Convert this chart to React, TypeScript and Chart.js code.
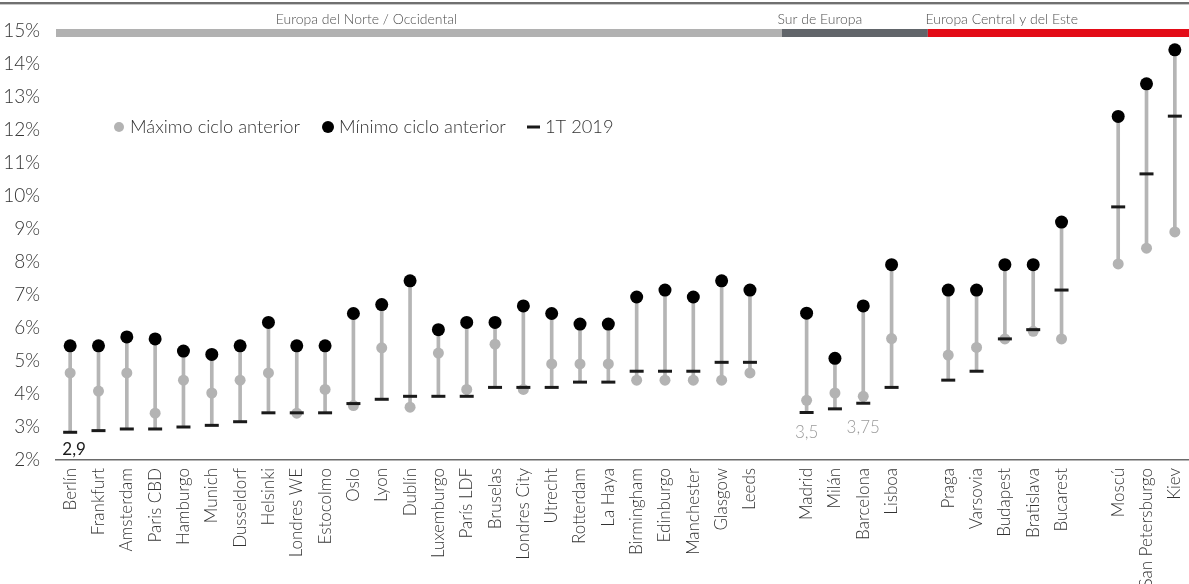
import React, { useEffect, useRef } from 'react';
import { Chart, registerables } from 'chart.js';

Chart.register(...registerables);

const categories = [
  'Berlín', 'Frankfurt', 'Amsterdam', 'Paris CBD', 'Hamburgo', 'Munich', 'Dusseldorf', 'Helsinki',
  'Londres WE', 'Estocolmo', 'Oslo', 'Lyon', 'Dublín', 'Luxemburgo', 'París LDF', 'Bruselas',
  'Londres City', 'Utrecht', 'Rotterdam', 'La Haya', 'Birmingham', 'Edinburgo', 'Manchester',
  'Glasgow', 'Leeds', '',
  'Madrid', 'Milán', 'Barcelona', 'Lisboa', '',
  'Praga', 'Varsovia', 'Budapest', 'Bratislava', 'Bucarest', '',
  'Moscú', 'San Petersburgo', 'Kiev',
];

// Máximo ciclo anterior (grey dots)
const maxPrevCycle = [
  4.64, 4.09, 4.64, 3.42, 4.42, 4.03, 4.42, 4.64, 3.42, 4.14, 3.65, 5.40, 3.60, 5.24, 4.14, 5.51,
  4.14, 4.91, 4.91, 4.91, 4.42, 4.42, 4.42, 4.42, 4.64, null,
  3.81, 4.03, 3.93, 5.68, null,
  5.18, 5.41, 5.67, 5.90, 5.67, null,
  7.94, 8.42, 8.91,
];

// Mínimo ciclo anterior (black dots)
const minPrevCycle = [
  5.46, 5.46, 5.73, 5.67, 5.30, 5.20, 5.46, 6.17, 5.46, 5.46, 6.44, 6.71, 7.43, 5.95, 6.17, 6.17,
  6.67, 6.44, 6.12, 6.12, 6.94, 7.15, 6.94, 7.43, 7.15, null,
  6.45, 5.08, 6.67, 7.92, null,
  7.15, 7.15, 7.92, 7.92, 9.21, null,
  12.41, 13.40, 14.43,
];

// 1T 2019 (dashes)
const q1_2019 = [
  2.84, 2.89, 2.94, 2.94, 3.00, 3.05, 3.16, 3.43, 3.43, 3.43, 3.71, 3.84, 3.93, 3.93, 3.93, 4.20,
  4.20, 4.20, 4.36, 4.36, 4.69, 4.69, 4.69, 4.96, 4.96, null,
  3.44, 3.55, 3.72, 4.20, null,
  4.42, 4.69, 5.67, 5.95, 7.15, null,
  9.67, 10.67, 12.42,
];

const seriesNames = ['Máximo ciclo anterior', 'Mínimo ciclo anterior', '1T 2019'];
const regionNames = ['Europa del Norte / Occidental', 'Sur de Europa', 'Europa Central y del Este'];
const annotationIndex = [0, 26, 28];
const annotationText = ['2,9', '3,5', '3,75'];

const FONT = 'Lato, "Source Sans Pro", sans-serif';

const ranges = categories.map((_, i) => {
  const vals = [maxPrevCycle[i], minPrevCycle[i], q1_2019[i]].filter((v) => v !== null) as number[];
  return vals.length ? [Math.min(...vals), Math.max(...vals)] : null;
});

const decorPlugin = {
  id: 'decor',
  afterDraw(chart: any) {
    const ctx = chart.ctx;
    const x = chart.scales.x;
    const y = chart.scales.y;
    const W = chart.width;
    ctx.save();
    // top rule
    ctx.fillStyle = '#707070';
    ctx.fillRect(0, 2, W, 2);
    ctx.fillStyle = '#c8c8c8';
    ctx.fillRect(0, 4, W, 1);

    // region bars
    const left = chart.chartArea.left;
    const b1 = x.getPixelForValue(25.13);
    const b2 = x.getPixelForValue(30.28);
    const barTop = 29;
    const barH = 8;
    ctx.fillStyle = '#b1b1b1';
    ctx.fillRect(left, barTop, b1 - left, barH);
    ctx.fillStyle = '#61656a';
    ctx.fillRect(b1, barTop, b2 - b1, barH);
    ctx.fillStyle = '#e30b17';
    ctx.fillRect(b2, barTop, W - b2, barH);

    // region labels
    ctx.font = `300 14px ${FONT}`;
    ctx.fillStyle = '#505050';
    ctx.textAlign = 'center';
    ctx.textBaseline = 'middle';
    const labelAt = [10.46, 26.47, 32.89];
    regionNames.forEach((n, i) => {
      ctx.fillText(n, x.getPixelForValue(labelAt[i]), 19);
    });

    // legend
    const ly = 127;
    ctx.font = `300 18.3px ${FONT}`;
    ctx.textAlign = 'left';
    ctx.fillStyle = '#b3b3b3';
    ctx.beginPath();
    ctx.arc(119, ly, 5, 0, Math.PI * 2);
    ctx.fill();
    ctx.fillStyle = '#333333';
    ctx.fillText(seriesNames[0], 130, ly);
    ctx.fillStyle = '#000000';
    ctx.beginPath();
    ctx.arc(328, ly, 6, 0, Math.PI * 2);
    ctx.fill();
    ctx.fillStyle = '#333333';
    ctx.fillText(seriesNames[1], 339, ly);
    ctx.fillStyle = '#1a1a1a';
    ctx.fillRect(527, ly - 1.5, 13, 3);
    ctx.fillStyle = '#333333';
    ctx.fillText(seriesNames[2], 545, ly);

    // annotations under the 1T 2019 dashes
    const offs = [17, 20, 24];
    const cols = ['#1a1a1a', '#9a9a9a', '#9a9a9a'];
    ctx.textAlign = 'center';
    annotationIndex.forEach((idx, k) => {
      ctx.font = `${k === 0 ? 400 : 300} 17px ${FONT}`;
      ctx.fillStyle = cols[k];
      const px = x.getPixelForValue(idx) + (k === 0 ? 4 : 0);
      const py = y.getPixelForValue(q1_2019[idx] as number) + offs[k];
      ctx.fillText(annotationText[k], px, py);
    });
    ctx.restore();
  },
};

export default function App() {
  const ref = useRef<HTMLCanvasElement | null>(null);
  useEffect(() => {
    document.body.style.margin = '0';
    const canvas = ref.current;
    if (!canvas) return;
    const chart = new Chart(canvas, {
      type: 'bar',
      data: {
        labels: categories,
        datasets: [
          {
            type: 'line',
            label: seriesNames[2],
            data: q1_2019,
            showLine: false,
            pointStyle: 'line',
            pointRadius: 7,
            pointBorderWidth: 3,
            pointBorderColor: '#1a1a1a',
            pointBackgroundColor: '#1a1a1a',
            order: 0,
          } as any,
          {
            type: 'line',
            label: seriesNames[1],
            data: minPrevCycle,
            showLine: false,
            pointStyle: 'circle',
            pointRadius: 6.5,
            pointBorderWidth: 0,
            pointBackgroundColor: '#000000',
            order: 1,
          } as any,
          {
            type: 'line',
            label: seriesNames[0],
            data: maxPrevCycle,
            showLine: false,
            pointStyle: 'circle',
            pointRadius: 5.5,
            pointBorderWidth: 0,
            pointBackgroundColor: '#b3b3b3',
            order: 2,
          } as any,
          {
            type: 'bar',
            label: 'rango',
            data: ranges as any,
            backgroundColor: '#b5b5b5',
            barThickness: 3,
            borderSkipped: false,
            order: 3,
          } as any,
        ],
      },
      options: {
        responsive: false,
        maintainAspectRatio: false,
        animation: false,
        layout: { autoPadding: false, padding: { top: 31, left: 0, right: -2, bottom: 0 } },
        plugins: {
          legend: { display: false },
          tooltip: { enabled: false },
          title: { display: false },
        },
        scales: {
          x: {
            grid: { display: false, drawTicks: false },
            border: { display: true, color: '#6a6a6a', width: 1.5 },
            ticks: {
              autoSkip: false,
              minRotation: 90,
              maxRotation: 90,
              padding: 8,
              color: '#333333',
              font: { family: FONT, size: 17, weight: '300' as any },
            },
            afterFit: (s: any) => {
              s.height = 124;
              s.paddingLeft = 0;
              s.paddingRight = 0;
            },
          },
          y: {
            min: 2,
            max: 15,
            grid: { display: false, drawTicks: false },
            border: { display: false },
            ticks: {
              stepSize: 1,
              padding: 16,
              color: '#333333',
              font: { family: FONT, size: 19, weight: '300' as any },
              callback: (v: any) => `${v}%`,
            },
            afterFit: (s: any) => {
              s.width = 56;
            },
          },
        },
      },
      plugins: [decorPlugin],
    });
    return () => chart.destroy();
  }, []);
  return (
    <div style={{ position: 'absolute', left: 0, top: 0, width: 1189, height: 584, overflow: 'hidden' }}>
      <canvas ref={ref} width={1189} height={584} style={{ display: 'block' }} />
    </div>
  );
}
